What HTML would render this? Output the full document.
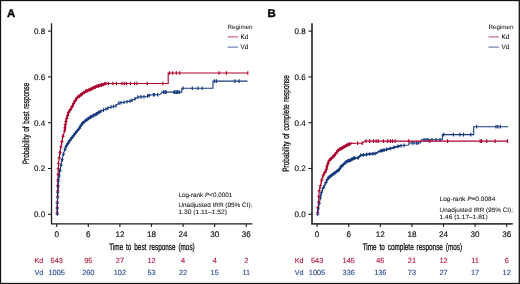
<!DOCTYPE html>
<html><head><meta charset="utf-8"><style>
html,body{margin:0;padding:0;background:#fff;width:520px;height:284px;overflow:hidden}
svg{display:block;will-change:transform}
text{font-family:"Liberation Sans", sans-serif;text-rendering:geometricPrecision}
</style></head><body>
<svg width="520" height="284" viewBox="0 0 520 284">
<rect x="0" y="0" width="520" height="284" fill="#fff"/>
<text x="7.0" y="16.9" font-size="11.4" font-weight="bold" fill="#000" stroke="#000" stroke-width="0.35">A</text>
<path d="M51.5 23.2V223.8H252.4" fill="none" stroke="#1a1a1a" stroke-width="1.3"/>
<path d="M48 214.3H51.5" stroke="#1a1a1a" stroke-width="1.1"/>
<text x="45.2" y="217.1" font-size="8.0" text-anchor="end" fill="#111" stroke="#111" stroke-width="0.15">0.0</text>
<path d="M48 168.5H51.5" stroke="#1a1a1a" stroke-width="1.1"/>
<text x="45.2" y="171.2" font-size="8.0" text-anchor="end" fill="#111" stroke="#111" stroke-width="0.15">0.2</text>
<path d="M48 122.7H51.5" stroke="#1a1a1a" stroke-width="1.1"/>
<text x="45.2" y="125.5" font-size="8.0" text-anchor="end" fill="#111" stroke="#111" stroke-width="0.15">0.4</text>
<path d="M48 76.9H51.5" stroke="#1a1a1a" stroke-width="1.1"/>
<text x="45.2" y="79.6" font-size="8.0" text-anchor="end" fill="#111" stroke="#111" stroke-width="0.15">0.6</text>
<path d="M48 31.1H51.5" stroke="#1a1a1a" stroke-width="1.1"/>
<text x="45.2" y="33.8" font-size="8.0" text-anchor="end" fill="#111" stroke="#111" stroke-width="0.15">0.8</text>
<path d="M56.7 223.8V226.9" stroke="#1a1a1a" stroke-width="1.1"/>
<text x="56.7" y="236.9" font-size="8.1" text-anchor="middle" fill="#111" stroke="#111" stroke-width="0.15">0</text>
<path d="M88.3 223.8V226.9" stroke="#1a1a1a" stroke-width="1.1"/>
<text x="88.3" y="236.9" font-size="8.1" text-anchor="middle" fill="#111" stroke="#111" stroke-width="0.15">6</text>
<path d="M119.9 223.8V226.9" stroke="#1a1a1a" stroke-width="1.1"/>
<text x="119.9" y="236.9" font-size="8.1" text-anchor="middle" fill="#111" stroke="#111" stroke-width="0.15">12</text>
<path d="M151.5 223.8V226.9" stroke="#1a1a1a" stroke-width="1.1"/>
<text x="151.5" y="236.9" font-size="8.1" text-anchor="middle" fill="#111" stroke="#111" stroke-width="0.15">18</text>
<path d="M183.1 223.8V226.9" stroke="#1a1a1a" stroke-width="1.1"/>
<text x="183.1" y="236.9" font-size="8.1" text-anchor="middle" fill="#111" stroke="#111" stroke-width="0.15">24</text>
<path d="M214.7 223.8V226.9" stroke="#1a1a1a" stroke-width="1.1"/>
<text x="214.7" y="236.9" font-size="8.1" text-anchor="middle" fill="#111" stroke="#111" stroke-width="0.15">30</text>
<path d="M246.3 223.8V226.9" stroke="#1a1a1a" stroke-width="1.1"/>
<text x="246.3" y="236.9" font-size="8.1" text-anchor="middle" fill="#111" stroke="#111" stroke-width="0.15">36</text>
<text x="152" y="250.3" font-size="9.3" text-anchor="middle" fill="#111" textLength="85.5" lengthAdjust="spacingAndGlyphs" stroke="#111" stroke-width="0.3" word-spacing="1.6">Time to best response (mos)</text>
<text transform="translate(28.6,123.4) rotate(-90)" x="0" y="0" font-size="9.2" text-anchor="middle" fill="#111" textLength="81.5" lengthAdjust="spacingAndGlyphs" stroke="#111" stroke-width="0.3" word-spacing="1.4">Probability of best response</text>
<text x="227.6" y="29.2" font-size="6.2" fill="#222" stroke="#222" stroke-width="0.05" textLength="25.0" lengthAdjust="spacingAndGlyphs">Regimen</text>
<path d="M227.6 36.9H238" stroke="#c2244a" stroke-width="1.1" opacity="0.8"/>
<path d="M227.6 47.1H238" stroke="#34529a" stroke-width="1.1" opacity="0.8"/>
<text x="240.5" y="39.1" font-size="6.4" fill="#111" stroke="#111" stroke-width="0.08">Kd</text>
<text x="240.5" y="49.0" font-size="6.4" fill="#111" stroke="#111" stroke-width="0.08">Vd</text>
<text x="178.4" y="197.0" font-size="6.3" fill="#1a1a1a" stroke="#1a1a1a" stroke-width="0.08" lengthAdjust="spacingAndGlyphs" textLength="53.8">Log-rank <tspan font-style="italic">P</tspan>&lt;0.0001</text>
<text x="178.4" y="206.9" font-size="6.3" fill="#1a1a1a" stroke="#1a1a1a" stroke-width="0.08" lengthAdjust="spacingAndGlyphs" textLength="74">Unadjusted IRR (95% CI):</text>
<text x="178.4" y="214.2" font-size="6.3" fill="#1a1a1a" stroke="#1a1a1a" stroke-width="0.08" lengthAdjust="spacingAndGlyphs" textLength="48.5">1.30 (1.11–1.52)</text>
<text x="38.8" y="262.8" font-size="7.2" text-anchor="middle" fill="#b81c40" stroke="#b81c40" stroke-width="0.15">Kd</text>
<text x="38.8" y="274.5" font-size="7.2" text-anchor="middle" fill="#34528f" stroke="#34528f" stroke-width="0.15">Vd</text>
<text x="56.7" y="262.8" font-size="7.4" text-anchor="middle" fill="#b81c40" stroke="#b81c40" stroke-width="0.15">543</text>
<text x="56.7" y="274.5" font-size="7.4" text-anchor="middle" fill="#34528f" stroke="#34528f" stroke-width="0.15">1005</text>
<text x="88.3" y="262.8" font-size="7.4" text-anchor="middle" fill="#b81c40" stroke="#b81c40" stroke-width="0.15">95</text>
<text x="88.3" y="274.5" font-size="7.4" text-anchor="middle" fill="#34528f" stroke="#34528f" stroke-width="0.15">260</text>
<text x="119.9" y="262.8" font-size="7.4" text-anchor="middle" fill="#b81c40" stroke="#b81c40" stroke-width="0.15">27</text>
<text x="119.9" y="274.5" font-size="7.4" text-anchor="middle" fill="#34528f" stroke="#34528f" stroke-width="0.15">102</text>
<text x="151.5" y="262.8" font-size="7.4" text-anchor="middle" fill="#b81c40" stroke="#b81c40" stroke-width="0.15">12</text>
<text x="151.5" y="274.5" font-size="7.4" text-anchor="middle" fill="#34528f" stroke="#34528f" stroke-width="0.15">53</text>
<text x="183.1" y="262.8" font-size="7.4" text-anchor="middle" fill="#b81c40" stroke="#b81c40" stroke-width="0.15">4</text>
<text x="183.1" y="274.5" font-size="7.4" text-anchor="middle" fill="#34528f" stroke="#34528f" stroke-width="0.15">22</text>
<text x="214.7" y="262.8" font-size="7.4" text-anchor="middle" fill="#b81c40" stroke="#b81c40" stroke-width="0.15">4</text>
<text x="214.7" y="274.5" font-size="7.4" text-anchor="middle" fill="#34528f" stroke="#34528f" stroke-width="0.15">15</text>
<text x="246.3" y="262.8" font-size="7.4" text-anchor="middle" fill="#b81c40" stroke="#b81c40" stroke-width="0.15">2</text>
<text x="246.3" y="274.5" font-size="7.4" text-anchor="middle" fill="#34528f" stroke="#34528f" stroke-width="0.15">11</text>
<text x="267.4" y="16.9" font-size="11.4" font-weight="bold" fill="#000" stroke="#000" stroke-width="0.35">B</text>
<path d="M312.0 23.2V223.8H512.8" fill="none" stroke="#3c3c3c" stroke-width="1.8"/>
<path d="M308.4 214.3H312.0" stroke="#1a1a1a" stroke-width="1.1"/>
<text x="305.59999999999997" y="217.1" font-size="8.0" text-anchor="end" fill="#111" stroke="#111" stroke-width="0.15">0.0</text>
<path d="M308.4 168.5H312.0" stroke="#1a1a1a" stroke-width="1.1"/>
<text x="305.59999999999997" y="171.2" font-size="8.0" text-anchor="end" fill="#111" stroke="#111" stroke-width="0.15">0.2</text>
<path d="M308.4 122.7H312.0" stroke="#1a1a1a" stroke-width="1.1"/>
<text x="305.59999999999997" y="125.5" font-size="8.0" text-anchor="end" fill="#111" stroke="#111" stroke-width="0.15">0.4</text>
<path d="M308.4 76.9H312.0" stroke="#1a1a1a" stroke-width="1.1"/>
<text x="305.59999999999997" y="79.6" font-size="8.0" text-anchor="end" fill="#111" stroke="#111" stroke-width="0.15">0.6</text>
<path d="M308.4 31.1H312.0" stroke="#1a1a1a" stroke-width="1.1"/>
<text x="305.59999999999997" y="33.8" font-size="8.0" text-anchor="end" fill="#111" stroke="#111" stroke-width="0.15">0.8</text>
<path d="M317.1 223.8V226.9" stroke="#1a1a1a" stroke-width="1.1"/>
<text x="317.1" y="236.9" font-size="8.1" text-anchor="middle" fill="#111" stroke="#111" stroke-width="0.15">0</text>
<path d="M348.7 223.8V226.9" stroke="#1a1a1a" stroke-width="1.1"/>
<text x="348.7" y="236.9" font-size="8.1" text-anchor="middle" fill="#111" stroke="#111" stroke-width="0.15">6</text>
<path d="M380.3 223.8V226.9" stroke="#1a1a1a" stroke-width="1.1"/>
<text x="380.3" y="236.9" font-size="8.1" text-anchor="middle" fill="#111" stroke="#111" stroke-width="0.15">12</text>
<path d="M411.9 223.8V226.9" stroke="#1a1a1a" stroke-width="1.1"/>
<text x="411.9" y="236.9" font-size="8.1" text-anchor="middle" fill="#111" stroke="#111" stroke-width="0.15">18</text>
<path d="M443.5 223.8V226.9" stroke="#1a1a1a" stroke-width="1.1"/>
<text x="443.5" y="236.9" font-size="8.1" text-anchor="middle" fill="#111" stroke="#111" stroke-width="0.15">24</text>
<path d="M475.1 223.8V226.9" stroke="#1a1a1a" stroke-width="1.1"/>
<text x="475.1" y="236.9" font-size="8.1" text-anchor="middle" fill="#111" stroke="#111" stroke-width="0.15">30</text>
<path d="M506.7 223.8V226.9" stroke="#1a1a1a" stroke-width="1.1"/>
<text x="506.7" y="236.9" font-size="8.1" text-anchor="middle" fill="#111" stroke="#111" stroke-width="0.15">36</text>
<text x="412.4" y="250.3" font-size="9.3" text-anchor="middle" fill="#111" textLength="99.5" lengthAdjust="spacingAndGlyphs" stroke="#111" stroke-width="0.3" word-spacing="1.6">Time to complete response (mos)</text>
<text transform="translate(289.0,123.4) rotate(-90)" x="0" y="0" font-size="9.2" text-anchor="middle" fill="#111" textLength="96.6" lengthAdjust="spacingAndGlyphs" stroke="#111" stroke-width="0.3" word-spacing="1.4">Probability of complete response</text>
<text x="488.5" y="29.2" font-size="6.2" fill="#222" stroke="#222" stroke-width="0.05" textLength="25.0" lengthAdjust="spacingAndGlyphs">Regimen</text>
<path d="M488.5 36.9H498.9" stroke="#c2244a" stroke-width="1.1" opacity="0.8"/>
<path d="M488.5 47.1H498.9" stroke="#34529a" stroke-width="1.1" opacity="0.8"/>
<text x="501.4" y="39.1" font-size="6.4" fill="#111" stroke="#111" stroke-width="0.08">Kd</text>
<text x="501.4" y="49.0" font-size="6.4" fill="#111" stroke="#111" stroke-width="0.08">Vd</text>
<text x="439.59999999999997" y="201.0" font-size="6.3" fill="#1a1a1a" stroke="#1a1a1a" stroke-width="0.08" lengthAdjust="spacingAndGlyphs" textLength="55.7">Log-rank <tspan font-style="italic">P</tspan>=0.0084</text>
<text x="439.59999999999997" y="211.6" font-size="6.3" fill="#1a1a1a" stroke="#1a1a1a" stroke-width="0.08" lengthAdjust="spacingAndGlyphs" textLength="73.3">Unadjusted IRR (95% CI):</text>
<text x="439.59999999999997" y="218.89999999999998" font-size="6.3" fill="#1a1a1a" stroke="#1a1a1a" stroke-width="0.08" lengthAdjust="spacingAndGlyphs" textLength="48.1">1.46 (1.17–1.81)</text>
<text x="299.2" y="262.8" font-size="7.2" text-anchor="middle" fill="#b81c40" stroke="#b81c40" stroke-width="0.15">Kd</text>
<text x="299.2" y="274.5" font-size="7.2" text-anchor="middle" fill="#34528f" stroke="#34528f" stroke-width="0.15">Vd</text>
<text x="317.1" y="262.8" font-size="7.4" text-anchor="middle" fill="#b81c40" stroke="#b81c40" stroke-width="0.15">543</text>
<text x="317.1" y="274.5" font-size="7.4" text-anchor="middle" fill="#34528f" stroke="#34528f" stroke-width="0.15">1005</text>
<text x="348.7" y="262.8" font-size="7.4" text-anchor="middle" fill="#b81c40" stroke="#b81c40" stroke-width="0.15">145</text>
<text x="348.7" y="274.5" font-size="7.4" text-anchor="middle" fill="#34528f" stroke="#34528f" stroke-width="0.15">336</text>
<text x="380.3" y="262.8" font-size="7.4" text-anchor="middle" fill="#b81c40" stroke="#b81c40" stroke-width="0.15">45</text>
<text x="380.3" y="274.5" font-size="7.4" text-anchor="middle" fill="#34528f" stroke="#34528f" stroke-width="0.15">136</text>
<text x="411.9" y="262.8" font-size="7.4" text-anchor="middle" fill="#b81c40" stroke="#b81c40" stroke-width="0.15">21</text>
<text x="411.9" y="274.5" font-size="7.4" text-anchor="middle" fill="#34528f" stroke="#34528f" stroke-width="0.15">73</text>
<text x="443.5" y="262.8" font-size="7.4" text-anchor="middle" fill="#b81c40" stroke="#b81c40" stroke-width="0.15">12</text>
<text x="443.5" y="274.5" font-size="7.4" text-anchor="middle" fill="#34528f" stroke="#34528f" stroke-width="0.15">27</text>
<text x="475.1" y="262.8" font-size="7.4" text-anchor="middle" fill="#b81c40" stroke="#b81c40" stroke-width="0.15">11</text>
<text x="475.1" y="274.5" font-size="7.4" text-anchor="middle" fill="#34528f" stroke="#34528f" stroke-width="0.15">17</text>
<text x="506.7" y="262.8" font-size="7.4" text-anchor="middle" fill="#b81c40" stroke="#b81c40" stroke-width="0.15">6</text>
<text x="506.7" y="274.5" font-size="7.4" text-anchor="middle" fill="#34528f" stroke="#34528f" stroke-width="0.15">12</text>
<polyline points="66.0,146.5 69.5,140.9 73.7,135.3 79.4,128.2 82.0,123.8 84.3,121.6 87.0,119.6 91.2,116.6 96.0,114.2 100.0,111.7" fill="none" stroke="#173a7e" stroke-width="1.8" stroke-linejoin="miter"/>
<polyline points="64.6,131.0 65.5,124.0 66.3,120.0 68.5,112.4 71.3,108.2 74.1,102.5 76.9,97.9 81.1,94.7 85.4,91.5 91.0,89.1 96.6,86.4 100.0,85.4 104.2,84.2 104.8,83.5 106.0,83.5" fill="none" stroke="#ad022e" stroke-width="1.8" stroke-linejoin="miter"/>
<polyline points="327.7,178.5 330.9,175.8 335.1,172.7 339.3,169.5 340.5,167.2 343.5,164.4 347.0,161.2 350.6,160.1 354.1,158.1 358.3,157.9 360.4,155.3 364.4,154.8 369.7,154.0 376.1,153.4 379.2,151.3 385.6,149.7 391.9,148.1 396.0,146.8 400.0,146.0" fill="none" stroke="#173a7e" stroke-width="1.8" stroke-linejoin="miter"/>
<polyline points="324.0,173.7 326.1,170.6 327.1,166.0 329.2,160.3 331.8,158.2 335.5,154.0 338.7,149.7 342.9,147.6 347.1,145.0 351.3,143.4 352.0,143.4" fill="none" stroke="#ad022e" stroke-width="1.8" stroke-linejoin="miter"/>
<polyline points="57.3,214.3 57.3,208.0 57.7,193.3 58.2,182.3 59.5,173.2 61.2,164.0 62.5,157.8 63.9,152.2 66.0,146.5 69.5,140.9 73.7,135.3 79.4,128.2 82.0,123.8 84.3,121.6 87.0,119.6 91.2,116.6 96.0,114.2 100.2,111.6 104.5,109.6 110.1,107.2 115.7,106.1 118.5,103.2 124.2,102.3 129.8,101.1 134.0,99.4 138.3,96.9 146.0,96.8 148.1,95.6 152.3,94.8 159.7,94.8 161.3,93.4 161.9,92.1 181.8,92.1 181.8,88.2 213.0,88.2 213.0,81.1 247.5,81.1" fill="none" stroke="#173a7e" stroke-width="1.1" stroke-linejoin="miter"/>
<path d="M147.6 94.1v3.6 M149.2 93.6v3.6 M153.4 93.0v3.6 M154.5 93.0v3.6 M157.6 93.0v3.6 M163.4 90.3v3.6 M165.0 90.3v3.6 M166.1 90.3v3.6 M174.0 90.3v3.6 M175.1 90.3v3.6 M176.7 90.3v3.6 M177.7 90.3v3.6 M179.3 90.3v3.6 M183.0 86.4v3.6 M192.3 86.4v3.6 M198.0 86.4v3.6 M202.2 86.4v3.6 M214.5 79.3v3.6 M216.5 79.3v3.6 M234.9 79.3v3.6 M239.1 79.3v3.6 M62.0 158.4v3.6 M63.5 152.0v3.6 M65.0 147.4v3.6 M66.5 143.9v3.6 M68.0 141.5v3.6 M69.5 139.1v3.6 M71.0 137.1v3.6 M72.5 135.1v3.6 M74.0 133.1v3.6 M75.5 131.3v3.6 M77.0 129.4v3.6 M78.5 127.5v3.6 M80.0 125.4v3.6 M81.5 122.8v3.6 M83.0 121.0v3.6 M84.5 119.7v3.6 M86.0 118.5v3.6 M87.5 117.4v3.6 M89.0 116.4v3.6 M90.5 115.3v3.6 M92.0 114.4v3.6 M93.5 113.7v3.6 M95.0 112.9v3.6 M96.5 112.1v3.6 M98.0 111.2v3.6 M99.5 110.2v3.6 M101.0 109.4v3.6 M103.5 108.3v3.6 M106.0 107.2v3.6 M108.0 106.3v3.6 M111.0 105.2v3.6 M113.5 104.7v3.6 M116.0 104.0v3.6 M119.0 101.3v3.6 M121.0 101.0v3.6 M124.0 100.5v3.6 M127.0 99.9v3.6 M130.0 99.2v3.6 M132.0 98.4v3.6 M135.0 97.0v3.6 M138.0 95.3v3.6 M141.0 95.1v3.6 M144.0 95.0v3.6" stroke="#173a7e" stroke-width="1.2" fill="none"/>
<path d="M57.3 212.6v3.4M55.6 214.3h3.4 M57.3 207.1v3.4M55.6 208.8h3.4 M57.4 201.6v3.4M55.7 203.3h3.4 M57.6 196.1v3.4M55.9 197.8h3.4 M57.7 190.6v3.4M56.0 192.3h3.4 M58.0 185.1v3.4M56.3 186.8h3.4 M58.3 179.6v3.4M56.6 181.3h3.4 M59.1 174.2v3.4M57.4 175.9h3.4 M60.0 168.8v3.4M58.3 170.5h3.4 M61.0 163.3v3.4M59.3 165.0h3.4 M62.1 158.0v3.4M60.4 159.7h3.4 M63.4 152.6v3.4M61.7 154.3h3.4 M65.1 147.4v3.4M63.4 149.1h3.4 M66.2 144.4v3.4M64.5 146.1h3.4 M67.9 141.7v3.4M66.2 143.4h3.4 M69.6 139.0v3.4M67.9 140.7h3.4 M71.6 136.4v3.4M69.9 138.1h3.4 M73.5 133.9v3.4M71.8 135.6h3.4 M75.5 131.4v3.4M73.8 133.1h3.4 M77.5 128.9v3.4M75.8 130.6h3.4 M79.5 126.4v3.4M77.8 128.1h3.4 M81.1 123.6v3.4M79.4 125.3h3.4 M83.0 121.1v3.4M81.3 122.8h3.4 M85.5 119.0v3.4M83.8 120.7h3.4 M88.1 117.1v3.4M86.4 118.8h3.4 M90.7 115.3v3.4M89.0 117.0h3.4 M93.5 113.8v3.4M91.8 115.5h3.4 M96.3 112.3v3.4M94.6 114.0h3.4 M99.0 110.6v3.4M97.3 112.3h3.4" stroke="#173a7e" stroke-width="0.9" fill="none"/>
<polyline points="57.3,214.3 57.3,205.0 57.6,195.0 58.0,180.0 58.4,164.0 59.6,155.0 61.0,146.5 62.5,138.1 64.6,131.0 65.5,124.0 66.3,120.0 68.5,112.4 71.3,108.2 74.1,102.5 76.9,97.9 81.1,94.7 85.4,91.5 91.0,89.1 96.6,86.4 100.0,85.4 104.2,84.2 104.8,83.5 168.2,83.5 168.2,73.0 248.0,73.0" fill="none" stroke="#ad022e" stroke-width="1.1" stroke-linejoin="miter"/>
<path d="M105.9 81.7v3.6 M108.4 81.7v3.6 M112.9 81.7v3.6 M116.4 81.7v3.6 M122.0 81.7v3.6 M124.2 81.7v3.6 M126.3 81.7v3.6 M130.5 81.7v3.6 M134.7 81.7v3.6 M136.8 81.7v3.6 M147.3 81.7v3.6 M162.8 81.7v3.6 M169.5 71.2v3.6 M172.6 71.2v3.6 M176.3 71.2v3.6 M179.7 71.2v3.6 M219.0 71.2v3.6 M226.4 71.2v3.6 M247.8 71.2v3.6 M60.0 150.8v3.6 M61.6 141.3v3.6 M63.2 133.9v3.6 M64.8 127.6v3.6 M66.4 117.9v3.6 M68.0 112.3v3.6 M69.6 109.0v3.6 M71.2 106.6v3.6 M72.8 103.3v3.6 M74.4 100.2v3.6 M76.0 97.6v3.6 M77.6 95.6v3.6 M79.2 94.3v3.6 M80.8 93.1v3.6 M82.4 91.9v3.6 M84.0 90.7v3.6 M85.6 89.6v3.6 M87.2 88.9v3.6 M88.8 88.2v3.6 M90.4 87.6v3.6 M92.0 86.8v3.6 M93.6 86.0v3.6 M95.2 85.3v3.6 M96.8 84.5v3.6 M98.4 84.1v3.6 M100.0 83.6v3.6 M101.6 83.1v3.6 M103.2 82.7v3.6" stroke="#ad022e" stroke-width="1.2" fill="none"/>
<path d="M57.3 211.1v3.4M55.6 212.8h3.4 M57.3 205.6v3.4M55.6 207.3h3.4 M57.4 200.1v3.4M55.7 201.8h3.4 M57.6 194.6v3.4M55.9 196.3h3.4 M57.7 189.1v3.4M56.0 190.8h3.4 M57.9 183.6v3.4M56.2 185.3h3.4 M58.0 178.1v3.4M56.3 179.8h3.4 M58.1 172.6v3.4M56.4 174.3h3.4 M58.3 167.1v3.4M56.6 168.8h3.4 M58.5 161.6v3.4M56.8 163.3h3.4 M59.2 156.2v3.4M57.5 157.9h3.4 M60.0 150.7v3.4M58.3 152.4h3.4 M60.9 145.3v3.4M59.2 147.0h3.4 M61.9 139.9v3.4M60.2 141.6h3.4 M63.1 134.5v3.4M61.4 136.2h3.4 M64.6 129.2v3.4M62.9 130.9h3.4 M65.0 126.1v3.4M63.3 127.8h3.4 M65.4 122.9v3.4M63.7 124.6h3.4 M66.0 119.8v3.4M64.3 121.5h3.4 M66.8 116.7v3.4M65.1 118.4h3.4 M67.7 113.6v3.4M66.0 115.3h3.4 M68.6 110.5v3.4M66.9 112.2h3.4 M70.4 107.9v3.4M68.7 109.6h3.4 M72.0 105.1v3.4M70.3 106.8h3.4 M73.4 102.2v3.4M71.7 103.9h3.4 M74.9 99.4v3.4M73.2 101.1h3.4 M76.6 96.7v3.4M74.9 98.4h3.4 M79.0 94.6v3.4M77.3 96.3h3.4 M81.5 92.7v3.4M79.8 94.4h3.4 M84.1 90.8v3.4M82.4 92.5h3.4 M86.9 89.2v3.4M85.2 90.9h3.4 M89.8 87.9v3.4M88.1 89.6h3.4 M92.7 86.6v3.4M91.0 88.3h3.4 M95.6 85.2v3.4M93.9 86.9h3.4 M98.6 84.1v3.4M96.9 85.8h3.4 M101.7 83.2v3.4M100.0 84.9h3.4 M104.6 82.1v3.4M102.9 83.8h3.4" stroke="#ad022e" stroke-width="0.9" fill="none"/>
<polyline points="317.6,214.3 317.9,211.2 318.5,206.5 319.5,202.3 321.6,191.7 323.0,188.5 325.6,183.2 327.7,178.5 330.9,175.8 335.1,172.7 339.3,169.5 340.5,167.2 343.5,164.4 347.0,161.2 350.6,160.1 354.1,158.1 358.3,157.9 360.4,155.3 364.4,154.8 369.7,154.0 376.1,153.4 379.2,151.3 385.6,149.7 391.9,148.1 396.0,146.8 402.3,145.5 408.7,145.0 409.2,143.0 420.3,143.0 421.3,139.8 442.3,139.8 442.3,134.6 473.7,134.6 473.7,126.7 508.0,126.7" fill="none" stroke="#173a7e" stroke-width="1.1" stroke-linejoin="miter"/>
<path d="M358.1 156.1v3.6 M360.8 153.4v3.6 M363.4 153.1v3.6 M366.6 152.7v3.6 M369.7 152.2v3.6 M372.9 151.9v3.6 M375.0 151.7v3.6 M380.8 149.1v3.6 M382.4 148.7v3.6 M384.0 148.3v3.6 M386.6 147.6v3.6 M390.3 146.7v3.6 M394.0 145.6v3.6 M398.0 144.6v3.6 M401.0 144.0v3.6 M404.0 143.6v3.6 M412.0 141.2v3.6 M414.0 141.2v3.6 M416.5 141.2v3.6 M418.2 141.2v3.6 M424.0 138.0v3.6 M426.0 138.0v3.6 M428.0 138.0v3.6 M432.0 138.0v3.6 M436.0 138.0v3.6 M440.0 138.0v3.6 M443.7 132.8v3.6 M453.4 132.8v3.6 M459.9 132.8v3.6 M463.5 132.8v3.6 M470.8 132.8v3.6 M476.7 124.9v3.6 M496.0 124.9v3.6 M497.8 124.9v3.6 M500.4 124.9v3.6 M321.0 192.9v3.6 M322.4 188.1v3.6 M323.8 185.1v3.6 M325.2 182.2v3.6 M326.6 179.2v3.6 M328.0 176.4v3.6 M329.4 175.3v3.6 M330.8 174.1v3.6 M332.2 173.0v3.6 M333.6 172.0v3.6 M335.0 171.0v3.6 M336.4 169.9v3.6 M337.8 168.8v3.6 M339.2 167.8v3.6 M340.6 165.3v3.6 M342.0 164.0v3.6 M343.4 162.7v3.6 M344.8 161.4v3.6 M346.2 160.1v3.6 M347.6 159.2v3.6 M349.0 158.8v3.6 M350.4 158.4v3.6 M351.8 157.6v3.6 M353.2 156.8v3.6 M354.6 156.3v3.6" stroke="#173a7e" stroke-width="1.2" fill="none"/>
<path d="M317.6 212.6v3.4M315.9 214.3h3.4 M318.2 207.1v3.4M316.5 208.8h3.4 M319.2 201.7v3.4M317.5 203.4h3.4 M320.3 196.4v3.4M318.6 198.1h3.4 M321.4 191.0v3.4M319.7 192.7h3.4 M323.5 185.9v3.4M321.8 187.6h3.4 M325.9 180.9v3.4M324.2 182.6h3.4 M327.2 178.0v3.4M325.5 179.7h3.4 M329.1 175.6v3.4M327.4 177.3h3.4 M331.6 173.6v3.4M329.9 175.3h3.4 M334.2 171.7v3.4M332.5 173.4h3.4 M336.7 169.7v3.4M335.0 171.4h3.4 M339.3 167.8v3.4M337.6 169.5h3.4 M340.9 165.1v3.4M339.2 166.8h3.4 M343.3 162.9v3.4M341.6 164.6h3.4 M345.6 160.7v3.4M343.9 162.4h3.4 M348.3 159.1v3.4M346.6 160.8h3.4 M351.3 158.0v3.4M349.6 159.7h3.4 M354.1 156.4v3.4M352.4 158.1h3.4" stroke="#173a7e" stroke-width="0.9" fill="none"/>
<polyline points="317.6,214.3 317.6,210.0 318.3,205.6 318.8,197.1 319.3,190.0 320.9,184.3 321.9,179.0 324.0,173.7 326.1,170.6 327.1,166.0 329.2,160.3 331.8,158.2 335.5,154.0 338.7,149.7 342.9,147.6 347.1,145.0 351.3,143.4 356.0,143.2 362.3,143.2 365.0,141.1 508.0,141.1" fill="none" stroke="#ad022e" stroke-width="1.1" stroke-linejoin="miter"/>
<path d="M357.6 141.4v3.6 M362.3 141.4v3.6 M366.0 139.3v3.6 M369.7 139.3v3.6 M373.4 139.3v3.6 M376.1 139.3v3.6 M378.2 139.3v3.6 M383.5 139.3v3.6 M387.7 139.3v3.6 M390.3 139.3v3.6 M392.4 139.3v3.6 M395.1 139.3v3.6 M408.7 139.3v3.6 M429.8 139.3v3.6 M447.6 139.3v3.6 M480.2 139.3v3.6 M481.6 139.3v3.6 M486.7 139.3v3.6 M495.1 139.3v3.6 M507.5 139.3v3.6 M320.0 185.7v3.6 M321.4 179.8v3.6 M322.8 174.9v3.6 M324.2 171.6v3.6 M325.6 169.5v3.6 M327.0 164.7v3.6 M328.4 160.7v3.6 M329.8 158.0v3.6 M331.2 156.9v3.6 M332.6 155.5v3.6 M334.0 153.9v3.6 M335.4 152.3v3.6 M336.8 150.5v3.6 M338.2 148.6v3.6 M339.6 147.5v3.6 M341.0 146.8v3.6 M342.4 146.1v3.6 M343.8 145.2v3.6 M345.2 144.4v3.6 M346.6 143.5v3.6 M348.0 142.9v3.6 M349.4 142.3v3.6" stroke="#ad022e" stroke-width="1.2" fill="none"/>
<path d="M317.6 211.1v3.4M315.9 212.8h3.4 M318.0 205.6v3.4M316.3 207.3h3.4 M318.5 200.2v3.4M316.8 201.9h3.4 M318.9 194.7v3.4M317.2 196.4h3.4 M319.2 189.2v3.4M317.5 190.9h3.4 M320.5 183.9v3.4M318.8 185.6h3.4 M321.7 178.5v3.4M320.0 180.2h3.4 M323.5 173.3v3.4M321.8 175.0h3.4 M325.0 170.5v3.4M323.3 172.2h3.4 M326.4 167.7v3.4M324.7 169.4h3.4 M327.0 164.5v3.4M325.3 166.2h3.4 M328.1 161.5v3.4M326.4 163.2h3.4 M329.3 158.6v3.4M327.6 160.3h3.4 M331.7 156.5v3.4M330.0 158.2h3.4 M333.9 154.2v3.4M332.2 155.9h3.4 M335.9 151.7v3.4M334.2 153.4h3.4 M337.8 149.1v3.4M336.1 150.8h3.4 M340.3 147.2v3.4M338.6 148.9h3.4 M343.1 145.8v3.4M341.4 147.5h3.4 M345.9 144.1v3.4M344.2 145.8h3.4 M348.7 142.7v3.4M347.0 144.4h3.4" stroke="#ad022e" stroke-width="0.9" fill="none"/>
<polyline points="57.3,214.3 57.3,208.0 57.7,193.3 58.2,182.3 59.5,173.2 61.2,164.0" fill="none" stroke="#173a7e" stroke-width="1.0" stroke-linejoin="miter"/>
<polyline points="317.6,214.3 317.9,211.2 318.5,206.5 319.5,202.3" fill="none" stroke="#173a7e" stroke-width="1.0" stroke-linejoin="miter"/>
<rect x="0.5" y="0.5" width="518.8" height="283" fill="none" stroke="#111" stroke-width="1.3"/>
</svg>
</body></html>
